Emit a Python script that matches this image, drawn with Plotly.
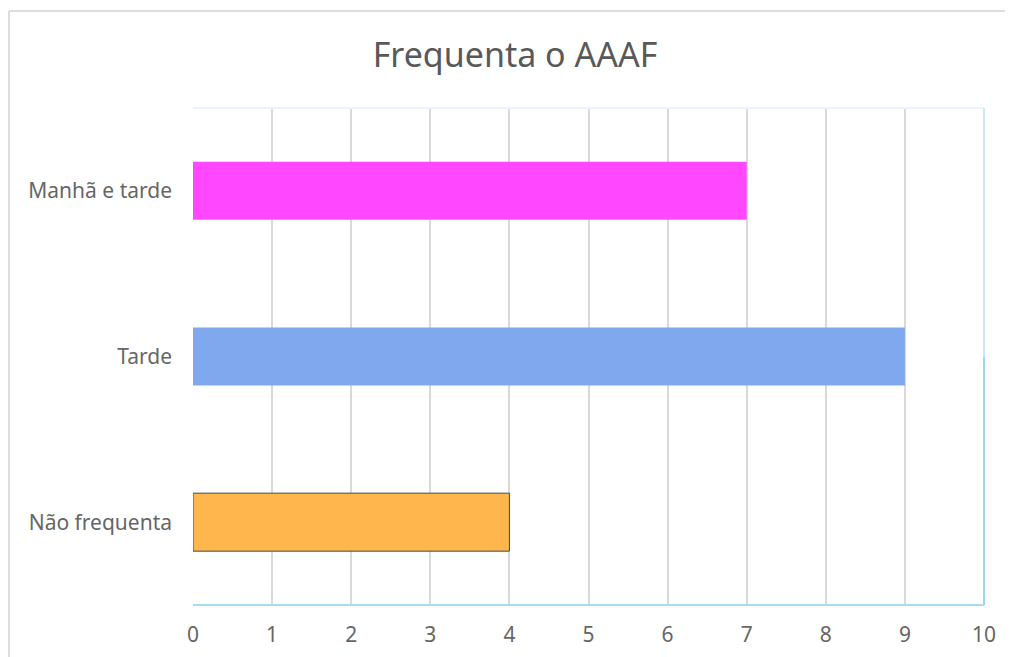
import plotly.graph_objects as go

categories = ["Não frequenta", "Tarde", "Manhã e tarde"]
values = [4, 9, 7]
colors = ["#FFB74D", "#7FA8EE", "#FF47FF"]
line_colors = ["#3A4A5A", "rgba(0,0,0,0)", "rgba(0,0,0,0)"]
x_ticks = list(range(0, 11))

OFF = 8  # page body margin
W, H = 1013 - OFF, 657 - OFF
L, R, T, B = 193 - OFF, 29, 108 - OFF, 52
pw, ph = W - L - R, H - T - B

def px(x):
    return (x - OFF - L) / pw

def py(y):
    return 1 - (y - OFF - T) / ph

fig = go.Figure()
fig.add_trace(go.Bar(
    y=categories, x=values, orientation="h",
    marker=dict(color=colors, line=dict(color=line_colors, width=1)),
    width=0.35,
))

shapes = [
    dict(type="line", xref="paper", yref="paper", x0=px(9), x1=px(9), y0=py(700), y1=py(11),
         line=dict(color="#DDDDDD", width=2)),
    dict(type="line", xref="paper", yref="paper", x0=px(9), x1=px(1100), y0=py(11), y1=py(11),
         line=dict(color="#DDDDDD", width=2)),
    dict(type="line", xref="paper", yref="paper", x0=0, x1=1, y0=1, y1=1,
         line=dict(color="#EAF4FA", width=2)),
    dict(type="line", xref="paper", yref="paper", x0=1, x1=1, y0=0.5, y1=1,
         line=dict(color="#CDE9F5", width=2)),
    dict(type="line", xref="paper", yref="paper", x0=1, x1=1, y0=0, y1=0.5,
         line=dict(color="#9FD6EE", width=2)),
    dict(type="line", xref="paper", yref="paper", x0=0, x1=1, y0=0, y1=0,
         line=dict(color="#A8DCF2", width=2)),
]

fig.update_layout(
    width=W, height=H,
    margin=dict(l=L, r=R, t=T, b=B, autoexpand=False),
    paper_bgcolor="white", plot_bgcolor="white",
    showlegend=False,
    title=dict(text="Frequenta o AAAF", x=(515 - OFF) / W, xref="container", xanchor="center",
               y=1 - (55 - OFF) / H, yanchor="middle",
               font=dict(family="Noto Sans", size=34, color="#595959")),
    font=dict(family="Noto Sans", size=21, color="#666666"),
    shapes=shapes,
    bargap=0.65,
)
fig.update_xaxes(range=[0, 10], tickvals=x_ticks, showgrid=True, gridcolor="#D9D9D9",
                 gridwidth=2, zeroline=False, showline=False, ticks="", automargin=False,
                 ticklabelstandoff=15, tickfont=dict(size=21, color="#666666"))
fig.update_yaxes(categoryorder="array", categoryarray=categories, showgrid=False,
                 zeroline=False, showline=False, ticks="", ticklabelstandoff=20, automargin=False,
                 tickfont=dict(size=21, color="#666666"))

fig.write_html("out.html")
